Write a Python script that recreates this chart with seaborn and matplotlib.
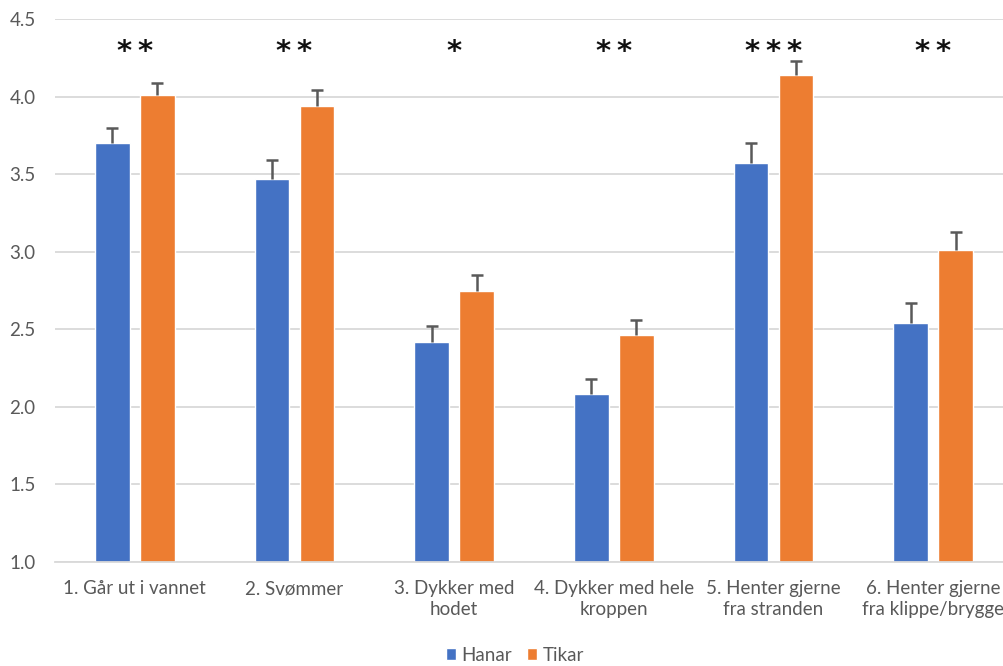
import matplotlib
matplotlib.use("Agg")
import matplotlib.pyplot as plt
import seaborn as sns
import pandas as pd
import numpy as np

categories = ["1. Går ut i vannet", "2. Svømmer", "3. Dykker med\nhodet",
              "4. Dykker med hele\nkroppen", "5. Henter gjerne\nfra stranden",
              "6. Henter gjerne\nfra klippe/brygge"]
hanar = [3.70, 3.47, 2.42, 2.08, 3.57, 2.54]
tikar = [4.01, 3.94, 2.75, 2.46, 4.14, 3.01]
hanar_err = [0.10, 0.12, 0.10, 0.10, 0.13, 0.13]
tikar_err = [0.08, 0.10, 0.10, 0.10, 0.09, 0.12]
stars = ["**", "**", "*", "**", "***", "**"]
series = ["Hanar", "Tikar"]
colors = ["#4472C4", "#ED7D31"]
yticks = [1.0, 1.5, 2.0, 2.5, 3.0, 3.5, 4.0, 4.5]

sns.set_theme(style="white")
plt.rcParams['font.family'] = ['Lato', 'DejaVu Sans']

df = pd.DataFrame({
    "kategori": categories * 2,
    "verdi": hanar + tikar,
    "kjonn": [series[0]] * len(categories) + [series[1]] * len(categories),
})

fig = plt.figure(figsize=(10.04, 6.66), dpi=100)
ax = fig.add_axes([55 / 1004, 104 / 666, 958 / 1004, 543 / 666])

sns.barplot(data=df, x="kategori", y="verdi", hue="kjonn", palette=colors,
            hue_order=series, order=categories, width=0.56, gap=0.225,
            errorbar=None, saturation=1, ax=ax)

# error bars (upward only)
n = len(categories)
errs = hanar_err + tikar_err
vals = hanar + tikar
for i, p in enumerate(ax.patches[:2 * n]):
    xc = p.get_x() + p.get_width() / 2
    eb = ax.errorbar(xc, vals[i], yerr=[[0], [errs[i]]], fmt="none",
                     ecolor="#595959", elinewidth=1.8, capsize=4.5, capthick=1.8, zorder=3)
    eb[1][0].set_visible(False)

# significance stars
for i, s in enumerate(stars):
    ax.text(i, 4.29, "\u2009".join(s), ha="center", va="center", fontsize=21,
            family="DejaVu Sans", fontweight="bold", color="#111111")

ax.set_ylim(1.0, 4.5)
ax.set_xlim(-0.5, n - 0.5)
ax.set_yticks(yticks)
ax.set_yticklabels([f"{v:.1f}" for v in yticks])
ax.yaxis.grid(True, color="#d9d9d9", linewidth=1.3)
ax.set_axisbelow(True)
for sp in ["top", "right", "left"]:
    ax.spines[sp].set_visible(False)
ax.spines["bottom"].set_color("#d9d9d9")
ax.spines["bottom"].set_linewidth(1.3)
ax.tick_params(axis="both", length=0, labelsize=13.5, labelcolor="#595959")
ax.tick_params(axis="y", pad=14)
ax.tick_params(axis="x", pad=13)
for lbl in ax.get_xticklabels():
    lbl.set_linespacing(1.3)
ax.set_xlabel("")
ax.set_ylabel("")

sns.move_legend(ax, "lower center", bbox_to_anchor=(515 / 1004, -0.022),
                bbox_transform=fig.transFigure, ncol=2, frameon=False,
                title=None, fontsize=13.5, handlelength=0.55, handleheight=0.55,
                handletextpad=0.3, columnspacing=0.8)
for t in ax.get_legend().get_texts():
    t.set_color("#595959")

fig.savefig("out.png", dpi=100)
